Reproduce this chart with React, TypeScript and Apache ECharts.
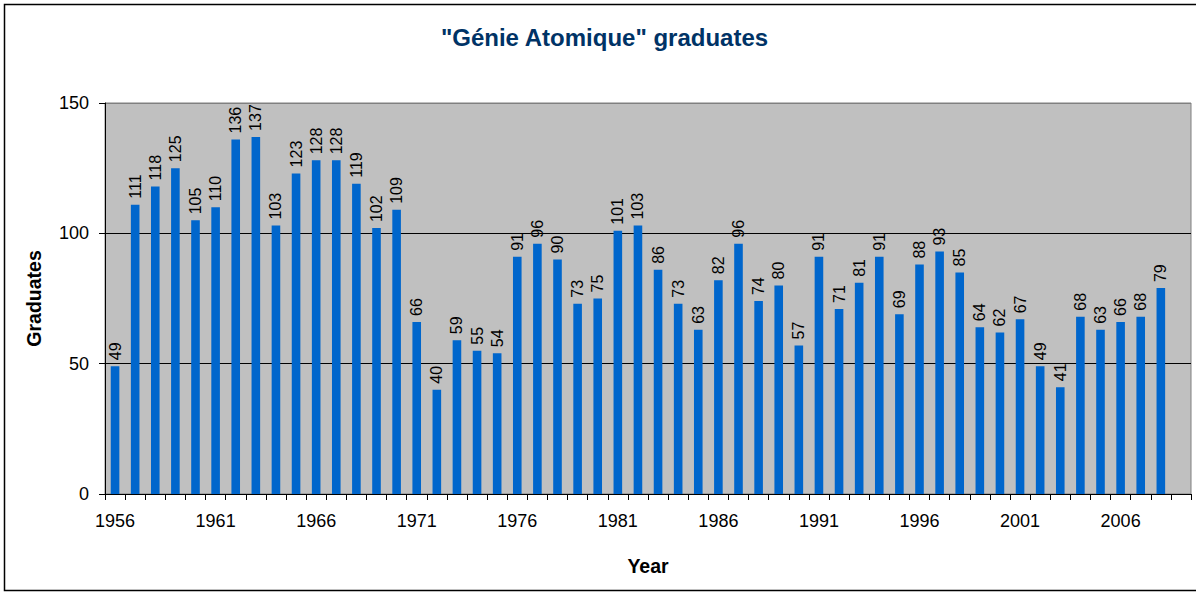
import React, { useEffect, useRef } from "react";
import * as echarts from "echarts";

const titleText = '"Génie Atomique" graduates';
const years: string[] = [
  "1956", "1957", "1958", "1959", "1960", "1961", "1962", "1963", "1964", "1965",
  "1966", "1967", "1968", "1969", "1970", "1971", "1972", "1973", "1974", "1975",
  "1976", "1977", "1978", "1979", "1980", "1981", "1982", "1983", "1984", "1985",
  "1986", "1987", "1988", "1989", "1990", "1991", "1992", "1993", "1994", "1995",
  "1996", "1997", "1998", "1999", "2000", "2001", "2002", "2003", "2004", "2005",
  "2006", "2007", "2008", "2009",
];
const graduates: (number | null)[] = [
  49, 111, 118, 125, 105, 110, 136, 137, 103, 123,
  128, 128, 119, 102, 109, 66, 40, 59, 55, 54,
  91, 96, 90, 73, 75, 101, 103, 86, 73, 63,
  82, 96, 74, 80, 57, 91, 71, 81, 91, 69,
  88, 93, 85, 64, 62, 67, 49, 41, 68, 63,
  66, 68, 79, null,
];
const yTicks = { min: 0, max: 150, interval: 50 };

const FONT = "'Liberation Sans', Arial, sans-serif";

export default function App() {
  const ref = useRef<HTMLDivElement>(null);
  useEffect(() => {
    document.body.style.margin = "0";
    if (!ref.current) return;
    const chart = echarts.init(ref.current, null, { renderer: "svg" });
    chart.setOption({
      animation: false,
      backgroundColor: "#ffffff",
      textStyle: { fontFamily: FONT },
      title: {
        text: titleText,
        left: 604.5,
        textAlign: "center",
        top: 25,
        padding: 0,
        textStyle: { fontFamily: FONT, fontSize: 24, fontWeight: "bold", color: "#003366" },
      },
      graphic: [
        {
          type: "rect",
          z: -10,
          silent: true,
          shape: { x: 4.5, y: 4.5, width: 1300, height: 586 },
          style: { fill: "none", stroke: "#000000", lineWidth: 1.5 },
        },
      ],
      grid: {
        left: 105,
        right: 5,
        top: 103,
        bottom: 98,
        show: true,
        backgroundColor: "#C0C0C0",
        borderColor: "#808080",
        borderWidth: 1,
      },
      xAxis: {
        type: "category",
        data: years,
        boundaryGap: true,
        name: "Year",
        nameLocation: "middle",
        nameGap: 62,
        nameTextStyle: { fontFamily: FONT, fontSize: 19.5, fontWeight: "bold", color: "#000" },
        axisLine: { show: true, lineStyle: { color: "#000", width: 1 } },
        axisTick: { show: true, interval: 0, length: 6, lineStyle: { color: "#000" } },
        axisLabel: { interval: 4, fontSize: 18, color: "#000", margin: 18, fontFamily: FONT },
        splitLine: { show: false },
      },
      yAxis: {
        type: "value",
        min: yTicks.min,
        max: yTicks.max,
        interval: yTicks.interval,
        name: "Graduates",
        nameLocation: "middle",
        nameRotate: 90,
        nameGap: 61,
        nameTextStyle: { fontFamily: FONT, fontSize: 19.5, fontWeight: "bold", color: "#000" },
        axisLine: { show: true, lineStyle: { color: "#000", width: 1 } },
        axisTick: { show: true, length: 6, lineStyle: { color: "#000" } },
        axisLabel: { fontSize: 18, color: "#000", margin: 16, fontFamily: FONT },
        splitLine: {
          show: true,
          lineStyle: { color: ["#000", "#000", "#000", "#808080"], width: 1 },
        },
      },
      series: [
        {
          type: "bar",
          data: graduates,
          barWidth: 8.6,
          itemStyle: { color: "#0066CC" },
          label: {
            show: true,
            position: "top",
            rotate: 90,
            align: "left",
            verticalAlign: "middle",
            distance: 6,
            fontSize: 16,
            color: "#000",
            fontFamily: FONT,
          },
        },
      ],
    });
    return () => chart.dispose();
  }, []);
  return (
    <div
      ref={ref}
      style={{ position: "absolute", left: 0, top: 0, width: 1196, height: 592 }}
    />
  );
}
